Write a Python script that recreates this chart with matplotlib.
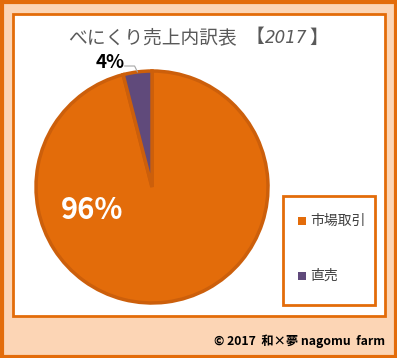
import numpy as np
import matplotlib.pyplot as plt
from matplotlib.patches import Rectangle

plt.rcParams['font.family'] = ['Noto Sans CJK JP', 'DejaVu Sans']

labels = ['市場取引', '直売']
values = [96, 4]
colors = ['#E36C0A', '#604A7B']
title_main = 'べにくり売上内訳表'
title_year = '2017'
footer = '© 2017  和×夢 nagomu  farm'

W, H = 397, 358
fig = plt.figure(figsize=(W / 100, H / 100), dpi=100)
fig.patch.set_facecolor('#FCD5B5')

# pixel-space background axes
bg = fig.add_axes([0, 0, 1, 1])
bg.set_xlim(0, W)
bg.set_ylim(H, 0)
bg.axis('off')
bg.add_patch(Rectangle((1.5, 1.5), W - 3, H - 3, fill=False, ec='#E36C0A', lw=3))
bg.add_patch(Rectangle((13, 14), 372, 302, fc='white', ec='#E36C0A', lw=2))
bg.add_patch(Rectangle((283, 196), 92, 109, fc='white', ec='#E36C0A', lw=2))
tc = '#595959'
bg.text(68, 38, title_main, ha='left', va='center', fontsize=13.5, color=tc)
bg.text(264, 38, '【', ha='right', va='center', fontsize=13.5, color=tc)
bg.text(265, 38, title_year, ha='left', va='center', fontsize=12, color=tc,
        style='italic', family=['DejaVu Sans'])
bg.text(309, 38, '】', ha='left', va='center', fontsize=13.5, color=tc)
bg.text(385, 341, footer, ha='right', va='center', fontsize=8.8, fontweight='bold', color='black')

# legend
for i, (lab, c) in enumerate(zip(labels, colors)):
    y = 221 + i * 55
    bg.add_patch(Rectangle((298, y - 4), 8, 8, fc=c, ec='none'))
    bg.text(310, y, lab, ha='left', va='center', fontsize=10, color='#404040')

# pie
cx, cy, r = 152, 187, 116
ax = fig.add_axes([(cx - r) / W, (H - cy - r) / H, 2 * r / W, 2 * r / H])
wedges, _ = ax.pie(values, colors=colors, startangle=90, counterclock=False,
                   wedgeprops=dict(edgecolor='#CC5F0B', linewidth=2.5))
ax.set_xlim(-1, 1)
ax.set_ylim(-1, 1)
ax.set_aspect('equal')
ax.axis('off')

# labels
ax.text(-0.52, -0.2, '96%', ha='center', va='center', fontsize=21,
        fontweight='bold', color='white')
w1 = wedges[1]
mid = np.deg2rad((w1.theta1 + w1.theta2) / 2)
px, py = np.cos(mid), np.sin(mid)
ax.text(-0.36, 1.07, '4%', ha='center', va='center', fontsize=13.5,
        fontweight='bold', color='black', clip_on=False)
ax.plot([-0.235, -0.15, px], [1.043, 1.043, py], color='#A6A6A6', lw=0.8,
        clip_on=False)

fig.savefig('out.png', dpi=100, facecolor=fig.get_facecolor())
